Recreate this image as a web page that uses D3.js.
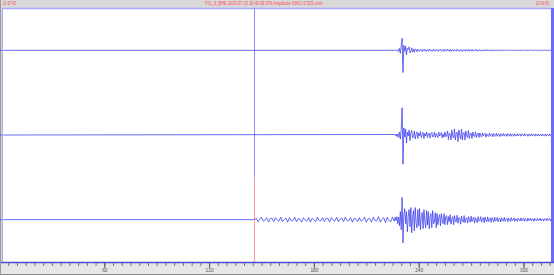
<!DOCTYPE html>
<html>
<head>
<meta charset="utf-8">
<script src="https://cdn.jsdelivr.net/npm/d3@7"></script>
<style>
  body { margin: 0; background: #fff; }
  svg { display: block; }
  text { font-family: "Liberation Sans", Arial, sans-serif; }
</style>
</head>
<body>
<div id="chart"></div>
<script>
// Header texts
const headerLeft = "10:37:45";
const headerCenter = "TGI_S_BHE 2025-07-15 10:40:09.376  Amplitude 336Ct 0.525 um/s";
const headerRight = "10:43:05";

// Time axis (seconds from window start)
const timeDomain = [0, 317];
const majorTicks = [60, 120, 180, 240, 300];
const cursorTime = 146;

// Event sections sampled every 0.5 s from 226 s
const eventStart = 226;
const eventStep = 0.5;

const trace1Event = [
  0,0.3,-0.2,-0.5,0.7,-1.2,2,-3,4.5,12,
  -22,5,-1,4,-4.5,2,1,3.5,-2.5,-1,
  2.5,-1.5,1,-2,1.5,0.5,-1.5,1.2,-0.3,-1,
  1,0.4,-1.2,0.8,-0.5,1.1,-1,-0.2,0.9,-1.1,
  0.6,1,-0.8,0.2,-1,1.2,-0.4,-0.7,1,0.3,
  -1.1,0.7,-0.2,1.1,-0.9,-0.4,0.8,-1,1,0.2,
  -0.8,1.2,-0.6,-0.5,1,-1.1,0.4,0.6,-0.9,0.9,
  -0.3,-0.8,1.1,-0.5,0.2,-1,0.9,0.4,-1.2,0.6,
  0.5,-0.8,1,-0.4,-0.6,0.9,-0.9,0.3,0.7,-1,
  0.8,-0.2,-0.7,0.9,-0.5,0.6,-0.9,0.2,0.7,-0.6,
  0.3,-0.8,0.7,-0.1,-0.6,0.8,-0.4,0.4,-0.7,0.5,
  0.2,-0.6,0.6,-0.5,0.1,0.5,-0.7,0.4,-0.2,0.6,
  -0.5,-0.1,0.6,-0.4,0.3,-0.6,0.5,0,-0.5,0.4,
  -0.3,0.5,-0.2,-0.3,0.5,-0.5,0.3,0.2,-0.5,0.4,
  -0.1,-0.4,0.5,-0.3,0.3,-0.4,0.1,0.4,-0.4,0.2,
  0.3,-0.5,0.3,-0.1,-0.3,0.4,-0.3,0.2,0.3,-0.4,
  0.2,-0.2,0.4,-0.4,0.1,0.3,-0.4,0.2,-0.1,0.3,
  -0.3,0.1,0.3,-0.3,0.2,-0.2,-0.1,0.3,-0.3,0.2,
  0.1,-0.3,0.3,-0.1,-0.2,0.3,-0.2,0.1,0.2,-0.3,
  0.2,-0.1];

const trace2Event = [
  0.5,-0.6,1,-1.5,1.2,-2.5,3,-4,5.5,27,
  -29,7,-2,6,-8,3,-1,5,-5.5,2,
  4.5,-3,-1.5,4,-4,1,3,-3.5,2,-1,
  3.5,-2.5,0.5,2.5,-3.5,1.5,-1,3,-2.5,0.5,
  2,-3,1,2.5,-2,-1,3,-2.5,1.5,-0.5,
  -2.5,3,-1,0.5,2.5,-3,1,-2,3,-1.5,
  -1,4,-4.5,2,1,-5,5,-1,-3,6,
  -5,1.5,3,-6.5,5,0,-4,6,-5,2,
  2.5,-5,4,-1,-2.5,4.5,-3.5,1,2,-3.5,
  3,-1,-1.5,3,-2.5,0.5,2,-2.5,2,-0.5,
  -2,2.2,-1,0.5,1.8,-2.2,1,-0.5,-1.5,2,
  -1.2,0.6,1.2,-1.8,1.5,-0.4,-1.2,1.6,-1.3,0.8,
  0.6,-1.6,1.4,-0.6,-0.8,1.5,-1.2,0.5,1,-1.4,
  1.2,-0.3,-1,1.4,-1.2,0.6,0.7,-1.3,1.2,-0.5,
  -0.8,1.3,-1,0.4,0.9,-1.2,1.1,-0.2,-1,1.2,
  -0.9,0.5,0.8,-1.3,1,-0.6,-0.6,1.2,-1.1,0.7,
  0.5,-1.2,1.1,-0.3,-0.8,1.1,-1,0.4,0.8,-1.1,
  0.9,-0.5,-0.6,1.1,-1.2,0.6,0.5,-1,1.1,-0.4,
  -0.8,1.2,-0.9,0.3,0.9,-1.1,0.8,-0.2,-0.9,1,
  -0.7,0.5];

const trace3Event = [
  -1.5,2.5,-1,3,-4,2.5,-6,8,-10,22,
  -23,5,11,-4,8,-12,3,10,-7,12,
  -13,2,9,-11,12,-3,-8,10,-6,11,
  -10,4,7,-9,10,-2,-8,9,-5,8,
  -9,3,6,-8,9,-4,-2,7,-8,6,
  -5,2,5,-6,6,-1,-4,6,-5,3,
  4,-5,3,-2,5,-4.5,1,3,-5,4,
  -2,-2,4.5,-3.5,2,1.5,-4.5,3.5,-1,-2.5,
  4,-3,1,2,-3.5,3,-0.5,-2.5,3.5,-2,
  1,2.5,-3.5,2,0,-3,3,-1.5,-1,3,
  -2.5,0.5,2,-3,2.5,-0.5,-2,2.8,-2,0.5,
  1.8,-2.8,2,0,-2.2,2.6,-1.5,-0.5,2.2,-2.2,
  1,1,-2.3,1.8,-0.3,-1.5,2.2,-1.6,0.5,1.4,
  -2,1.5,0,-1.7,2,-1.2,-0.4,1.8,-1.7,0.8,
  0.8,-1.8,1.5,-0.3,-1.3,1.8,-1.2,0.2,1.3,-1.6,
  1.2,0.2,-1.5,1.6,-0.8,-0.6,1.6,-1.4,0.6,0.9,
  -1.6,1.2,-0.1,-1.2,1.5,-1,-0.3,1.4,-1.3,0.5,
  0.8,-1.4,1.1,0,-1.1,1.4,-0.9,-0.2,1.2,-1.2,
  0.6,0.7,-1.3,1,-0.2,-0.9,1.3,-0.8,0.2,1,
  -1.1,0.6];

// Trace 3 pre-event noise, every 1 s from 146 s
const trace3NoiseStart = 146;
const trace3NoiseStep = 1;
const trace3Noise = [
  0,1.5,-2,0.5,2.5,-1.5,-0.5,2,-2.5,1,
  1.5,-2,2,-0.5,-1.5,2.5,-2,0,1.5,-2.5,
  2,-1,-1,2.5,-2,1,0.5,-2.5,2,-0.5,
  -1.5,2,-2.5,1.5,0,-2,2.5,-1,-1,2,
  -2,1,1.5,-2.5,2,-0.5,-1.5,2.5,-2,0.5,
  1.5,-2,2.5,-1,-1,2,-2.5,1,1,-2,
  2,-1.5,-0.5,2.5,-2.5,1,1,-2.5,2.5,-1,
  -1,3,-2.5,0.5,2,-3,2.5,-1,-2,2.5];

const width = 554;
const height = 275;
const plotTop = 8;
const plotBottom = 262;
const plotLeft = 2;
const plotRight = 551;

const svg = d3.select("#chart")
  .append("svg")
  .attr("width", width)
  .attr("height", height);

// Background frame
svg.append("rect").attr("x", 0).attr("y", 0).attr("width", width).attr("height", height).attr("fill", "#d9d9d9");
svg.append("rect").attr("x", plotLeft).attr("y", plotTop).attr("width", plotRight - plotLeft).attr("height", plotBottom - plotTop).attr("fill", "#fff");
svg.append("rect").attr("x", 0).attr("y", 0).attr("width", 1).attr("height", height).attr("fill", "#9a9a9a");

// Header
svg.append("text").attr("x", 3).attr("y", 5.3).attr("font-size", 4.6).attr("fill", "#ff4a4a")
  .attr("textLength", 13).attr("lengthAdjust", "spacingAndGlyphs").text(headerLeft);
svg.append("text").attr("x", 205).attr("y", 5.3).attr("font-size", 4.6).attr("fill", "#ff4a4a")
  .attr("textLength", 118).attr("lengthAdjust", "spacingAndGlyphs").text(headerCenter);
svg.append("text").attr("x", 536).attr("y", 5.3).attr("font-size", 4.6).attr("fill", "#ff4a4a")
  .attr("textLength", 13).attr("lengthAdjust", "spacingAndGlyphs").text(headerRight);

// Scales
const x = d3.scaleLinear().domain(timeDomain).range([-0.5, 553.2]);
const bandH = (plotBottom - plotTop) / 3;

// Cursor
svg.append("line").attr("x1", x(cursorTime)).attr("x2", x(cursorTime)).attr("y1", plotTop).attr("y2", plotTop + 2 * bandH)
  .attr("stroke", "#8c8cff").attr("stroke-width", 1);
svg.append("line").attr("x1", x(cursorTime)).attr("x2", x(cursorTime)).attr("y1", plotTop + 2 * bandH).attr("y2", plotBottom)
  .attr("stroke", "#ff9c9c").attr("stroke-width", 1);

// Build traces
function eventPoints(values) {
  return values.map((v, i) => ({ t: eventStart + i * eventStep, v: v }));
}
const traces = [
  [{ t: 0, v: 0 }].concat(eventPoints(trace1Event)),
  [{ t: 0, v: 0 }].concat(eventPoints(trace2Event)),
  [{ t: 0, v: 0 }].concat(trace3Noise.map((v, i) => ({ t: trace3NoiseStart + i * trace3NoiseStep, v: v }))).concat(eventPoints(trace3Event))
];

traces.forEach((pts, k) => {
  const y = d3.scaleLinear().domain([-42, 42]).range([plotTop + (k + 1) * bandH, plotTop + k * bandH]);
  const line = d3.line().x(d => x(d.t)).y(d => y(d.v));
  svg.append("path")
    .datum(pts.filter(d => d.t <= timeDomain[1]))
    .attr("d", line)
    .attr("fill", "none")
    .attr("stroke", "#3a3aee")
    .attr("stroke-width", 0.75);
});

// Borders
svg.append("line").attr("x1", plotLeft).attr("x2", plotRight).attr("y1", plotTop + 0.5).attr("y2", plotTop + 0.5).attr("stroke", "#a6a6ff").attr("stroke-width", 1.5);
svg.append("line").attr("x1", plotLeft + 0.5).attr("x2", plotLeft + 0.5).attr("y1", plotTop).attr("y2", plotBottom).attr("stroke", "#a6a6ff").attr("stroke-width", 1);
svg.append("rect").attr("x", plotRight).attr("y", plotTop).attr("width", 3).attr("height", plotBottom - plotTop + 2).attr("fill", "#6a6aff");

// Time axis
const axisArea = svg.append("g");
axisArea.append("rect").attr("x", 1).attr("y", plotBottom).attr("width", width - 1).attr("height", height - plotBottom - 1).attr("fill", "#e6e6e6");
axisArea.append("rect").attr("x", 0).attr("y", height - 1).attr("width", width).attr("height", 1).attr("fill", "#8a8a8a");

svg.append("g")
  .attr("transform", `translate(0, ${plotBottom + 1})`)
  .call(d3.axisBottom(x).tickValues(d3.range(5, timeDomain[1], 5)).tickSize(3).tickFormat(""))
  .call(g => g.select(".domain").remove())
  .call(g => g.selectAll("line").attr("stroke", "#777"));

svg.append("g")
  .attr("transform", `translate(0, ${plotBottom + 1})`)
  .call(d3.axisBottom(x).tickValues(majorTicks).tickSize(5).tickPadding(1))
  .call(g => g.select(".domain").remove())
  .call(g => g.selectAll("line").attr("stroke", "#555"))
  .call(g => g.selectAll("text").attr("font-size", 4.8).attr("fill", "#555").attr("font-family", "Liberation Sans, Arial"));

svg.append("line").attr("x1", 1).attr("x2", plotRight + 3).attr("y1", plotBottom + 0.5).attr("y2", plotBottom + 0.5).attr("stroke", "#4b4bd6").attr("stroke-width", 1.5);
</script>
</body>
</html>
